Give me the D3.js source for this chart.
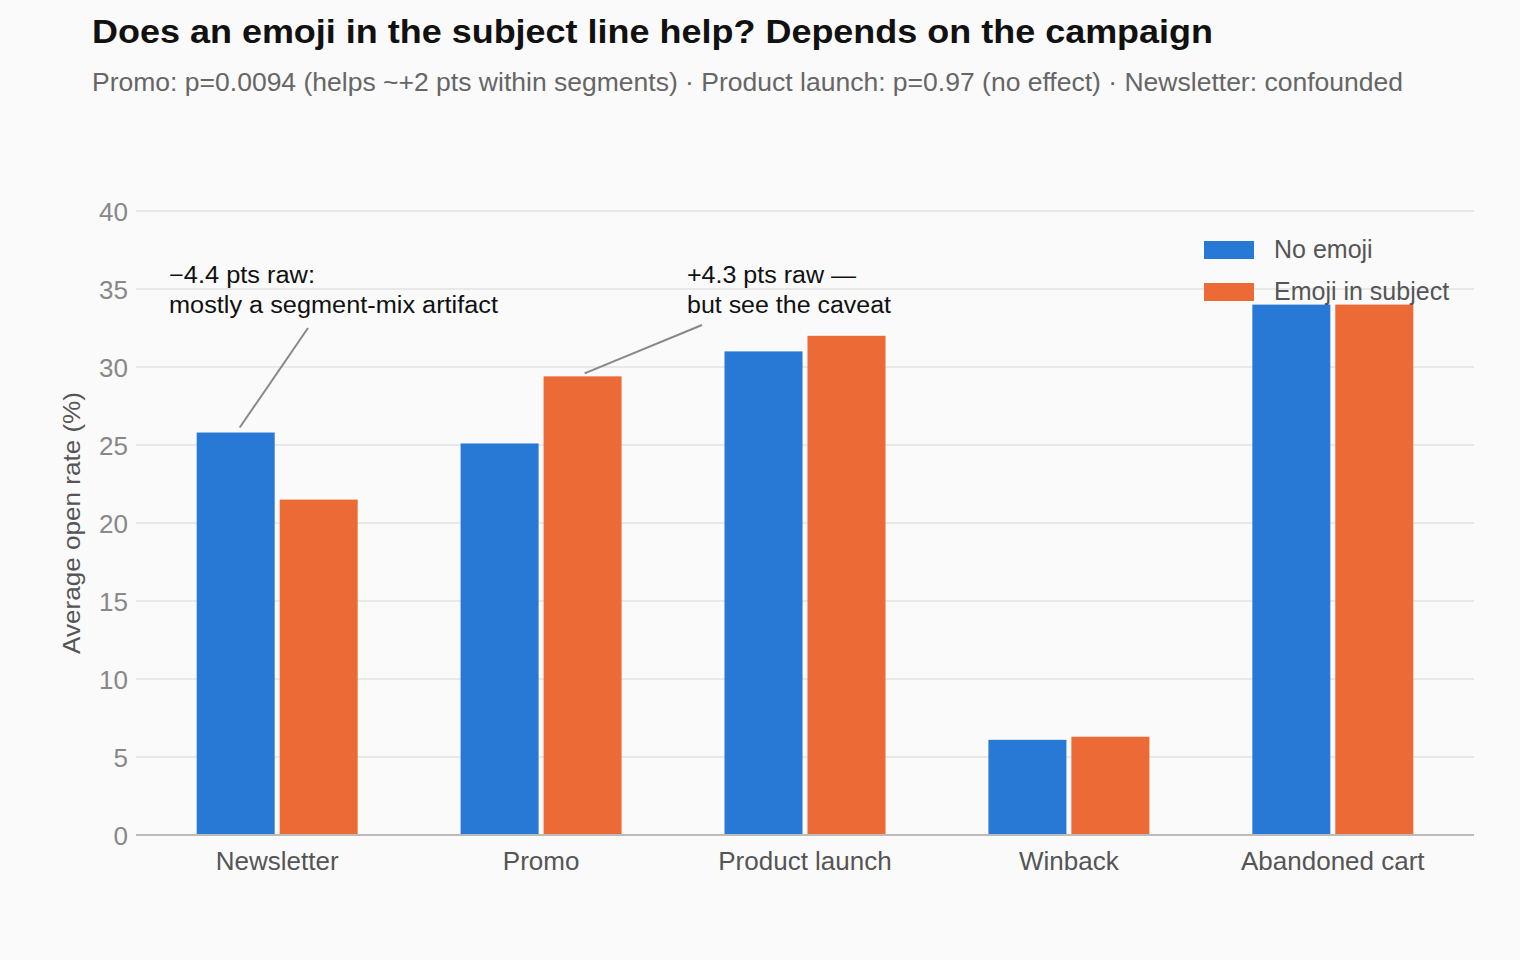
<!DOCTYPE html>
<html><head><meta charset="utf-8">
<script src="https://cdn.jsdelivr.net/npm/d3@7"></script>
<style>body{margin:0;background:#fafafa;font-family:"Liberation Sans",Arial,sans-serif}</style>
</head><body><svg id="c" width="1520" height="960"></svg>
<script>
const categories=["Newsletter","Promo","Product launch","Winback","Abandoned cart"];
const seriesNames=["No emoji","Emoji in subject"];
const noEmoji=[25.8,25.1,31.0,6.1,34.0];
const emoji=[21.5,29.4,32.0,6.3,34.0];
const yTicks=[0,5,10,15,20,25,30,35,40];
const colors=["#2878d6","#ec6a35"];
const svg=d3.select("#c");
svg.append("rect").attr("width",1520).attr("height",960).attr("fill","#fafafa");
const L=136,R=1474,T=211,B=835;
const x=d3.scaleBand().domain(categories).range([L,R]).paddingInner(0.39).paddingOuter(0.23);
const xs=d3.scaleBand().domain(seriesNames).range([0,x.bandwidth()]).paddingInner(0.06);
const y=d3.scaleLinear().domain([0,40]).range([B,T]);
svg.append("g").selectAll("line").data(yTicks).join("line")
 .attr("x1",L).attr("x2",R).attr("y1",d=>y(d)).attr("y2",d=>y(d)).attr("stroke","#e2e2e2").attr("stroke-width",1.5);
svg.append("g").selectAll("text").data(yTicks).join("text")
 .attr("x",128).attr("y",d=>y(d)+10).attr("text-anchor","end").attr("font-size",26).attr("fill","#888").text(d=>d);
const data=[noEmoji,emoji];
data.forEach((vals,si)=>{
 svg.append("g").selectAll("rect").data(vals).join("rect")
  .attr("x",(d,i)=>x(categories[i])+xs(seriesNames[si])).attr("width",xs.bandwidth())
  .attr("y",d=>y(d)).attr("height",d=>y(0)-y(d)).attr("fill",colors[si]);
});
svg.append("line").attr("x1",L).attr("x2",R).attr("y1",B).attr("y2",B).attr("stroke","#bbb").attr("stroke-width",2);
svg.append("g").selectAll("text").data(categories).join("text")
 .attr("x",d=>x(d)+x.bandwidth()/2).attr("y",870).attr("text-anchor","middle").attr("font-size",26).attr("fill","#555").text(d=>d);
svg.append("text").attr("transform","translate(80,523) rotate(-90)").attr("text-anchor","middle").attr("font-size",24).attr("fill","#555")
 .attr("textLength",262).attr("lengthAdjust","spacingAndGlyphs").text("Average open rate (%)");
svg.append("text").attr("x",92).attr("y",43).attr("font-size",34).attr("font-weight","bold").attr("fill","#111")
 .attr("textLength",1121).attr("lengthAdjust","spacingAndGlyphs").text("Does an emoji in the subject line help? Depends on the campaign");
svg.append("text").attr("x",92).attr("y",91).attr("font-size",25).attr("fill","#666")
 .attr("textLength",1311).attr("lengthAdjust","spacingAndGlyphs").text("Promo: p=0.0094 (helps ~+2 pts within segments) · Product launch: p=0.97 (no effect) · Newsletter: confounded");
seriesNames.forEach((n,i)=>{
 svg.append("rect").attr("x",1204).attr("y",241+i*42).attr("width",50).attr("height",18).attr("fill",colors[i]);
 svg.append("text").attr("x",1274).attr("y",258+i*42).attr("font-size",25).attr("fill","#555").text(n);
});
function ann(tx,lines,lens,x1,y1,x2,y2){
 lines.forEach((l,i)=>svg.append("text").attr("x",tx).attr("y",283+i*30).attr("font-size",23).attr("fill","#111")
   .attr("textLength",lens[i]).attr("lengthAdjust","spacingAndGlyphs").text(l));
 svg.append("line").attr("x1",x1).attr("y1",y1).attr("x2",x2).attr("y2",y2).attr("stroke","#888").attr("stroke-width",2);
}
ann(169,["\u22124.4 pts raw:","mostly a segment-mix artifact"],[146,329],308,328,x("Newsletter")+xs("No emoji")+xs.bandwidth()/2+4,y(noEmoji[0])-5);
ann(687,["+4.3 pts raw \u2014","but see the caveat"],[169,204],702,325,x("Promo")+xs("Emoji in subject")+xs.bandwidth()/2+2,y(emoji[1])-3);
</script></body></html>
